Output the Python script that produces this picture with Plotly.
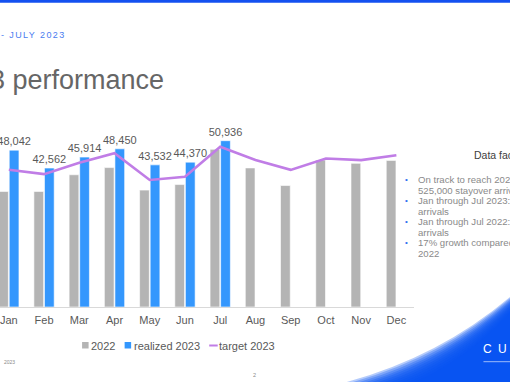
import plotly.graph_objects as go

months = ["Jan", "Feb", "Mar", "Apr", "May", "Jun", "Jul", "Aug", "Sep", "Oct", "Nov", "Dec"]
arrivals_2022 = [35400, 35400, 40500, 42700, 35800, 37500, 48300, 42600, 37200, 45000, 44000, 44900]
realized_2023 = [48042, 42562, 45914, 48450, 43532, 44370, 50936]
target_2023 = [42050, 40700, 44200, 47100, 38900, 39900, 49100, 45000, 42000, 45500, 45000, 46500]

fact_lines = [
    ("On track to reach 2023 t", True),
    ("525,000 stayover arrivals", False),
    ("Jan through Jul 2023: 32", True),
    ("arrivals", False),
    ("Jan through Jul 2022: 27", True),
    ("arrivals", False),
    ("17% growth compared to", True),
    ("2022", False),
]

FONT = "Liberation Sans, Arial, sans-serif"
GRAY_TXT = "#595959"
C2022 = "#B4B4B4"
C2023 = "#3497FD"
CTGT = "#C07DE6"
DEEP = "rgb(8,82,242)"

# plot-area geometry (pixels)
W_FIG, H_FIG = 510, 382
PL, PR, PT, PB = 0, 413.6, 100, 307
W = PR - PL
H = PB - PT


def px(x):
    return (x - PL) / W


def py(y):
    return (PB - y) / H


fig = go.Figure()
fig.add_trace(go.Bar(
    name="2022", x=months, y=arrivals_2022,
    marker=dict(color=C2022, line=dict(color="white", width=0.6)),
))
fig.add_trace(go.Bar(
    name="realized 2023", x=months[:len(realized_2023)], y=realized_2023,
    marker=dict(color=C2023, line=dict(color="white", width=0.6)),
    texttemplate="%{y:,}", textposition="outside", constraintext="none",
    cliponaxis=False,
    textfont=dict(family=FONT, size=11, color=GRAY_TXT),
))
fig.add_trace(go.Scatter(
    name="target 2023", x=months, y=target_2023, mode="lines",
    line=dict(color=CTGT, width=2.6),
))

shapes = []
annotations = []

# top blue rule
shapes.append(dict(type="rect", xref="paper", yref="paper",
                   x0=px(-2), x1=px(W_FIG + 2), y0=py(2.7), y1=py(-2),
                   fillcolor="rgb(20,80,240)", line=dict(width=0), layer="above"))

# bottom-right gradient swoosh (stacked translucent layers)
N = 12
outer = [(322, 388), (432, 364), (513, 294)]
inner = [(392, 390), (458, 370), (516, 306)]
for i in range(N):
    t = i / (N - 1)
    p = [(o[0] + (n[0] - o[0]) * t, o[1] + (n[1] - o[1]) * t) for o, n in zip(outer, inner)]
    path = (f"M {px(p[0][0])},{py(p[0][1])} Q {px(p[1][0])},{py(p[1][1])} {px(p[2][0])},{py(p[2][1])} "
            f"L {px(518)},{py(p[2][1])} L {px(518)},{py(392)} L {px(p[0][0])},{py(392)} Z")
    shapes.append(dict(type="path", xref="paper", yref="paper", path=path,
                       fillcolor=DEEP, opacity=0.3, line=dict(width=0), layer="below"))

# white thin line under logo
shapes.append(dict(type="line", xref="paper", yref="paper",
                   x0=px(483), x1=px(512), y0=py(361.7), y1=py(361.7),
                   line=dict(color="rgba(255,255,255,0.6)", width=1)))

# legend (custom, compact like the reference)
shapes.append(dict(type="rect", xref="paper", yref="paper",
                   x0=px(82), x1=px(88.5), y0=py(348.5), y1=py(342),
                   fillcolor=C2022, line=dict(width=0)))
shapes.append(dict(type="rect", xref="paper", yref="paper",
                   x0=px(124.5), x1=px(131), y0=py(348.5), y1=py(342),
                   fillcolor=C2023, line=dict(width=0)))
shapes.append(dict(type="line", xref="paper", yref="paper",
                   x0=px(209), x1=px(217.5), y0=py(345.5), y1=py(345.5),
                   line=dict(color=CTGT, width=2)))
for lx, txt in [(89, "2022"), (131.5, "realized 2023"), (216.5, "target 2023")]:
    annotations.append(dict(xref="paper", yref="paper", x=px(lx), y=py(345.5),
                            xanchor="left", yanchor="middle", showarrow=False, text=txt,
                            font=dict(family=FONT, size=11, color=GRAY_TXT)))

# header texts
annotations.append(dict(xref="paper", yref="paper", x=px(-1), y=py(35),
                        xanchor="left", yanchor="middle", showarrow=False,
                        text="<span style='letter-spacing:1.4px'>- JULY 2023</span>",
                        font=dict(family=FONT, size=9, color="#4A7CF0")))
annotations.append(dict(xref="paper", yref="paper", x=px(-12), y=py(80),
                        xanchor="left", yanchor="middle", showarrow=False,
                        text="3 performance",
                        font=dict(family=FONT, size=27, color="#666666")))

# data facts panel
annotations.append(dict(xref="paper", yref="paper", x=px(472), y=py(155),
                        xanchor="left", yanchor="middle", showarrow=False,
                        text="Data facts",
                        font=dict(family=FONT, size=10.5, color="#404040")))
ly = 179.5
for txt, bullet in fact_lines:
    if bullet:
        annotations.append(dict(xref="paper", yref="paper", x=px(402.5), y=py(ly),
                                xanchor="left", yanchor="middle", showarrow=False,
                                text="•", font=dict(family=FONT, size=8, color="#2D6FF0")))
    annotations.append(dict(xref="paper", yref="paper", x=px(415.5), y=py(ly),
                            xanchor="left", yanchor="middle", showarrow=False,
                            text=txt, font=dict(family=FONT, size=9.6, color="#8A8A8A")))
    ly += 10.5

# small footer texts
annotations.append(dict(xref="paper", yref="paper", x=px(2), y=py(362),
                        xanchor="left", yanchor="middle", showarrow=False,
                        text="2023", font=dict(family=FONT, size=5, color="#8A8A8A")))
annotations.append(dict(xref="paper", yref="paper", x=px(254.5), y=py(375),
                        xanchor="center", yanchor="middle", showarrow=False,
                        text="2", font=dict(family=FONT, size=5.5, color="#8A8A8A")))
annotations.append(dict(xref="paper", yref="paper", x=px(481), y=py(349),
                        xanchor="left", yanchor="middle", showarrow=False,
                        text="<span style='letter-spacing:1.5px'>C U R A Ç A O</span>",
                        font=dict(family=FONT, size=12, color="white")))

fig.update_layout(
    width=W_FIG, height=H_FIG, autosize=False,
    margin=dict(l=PL, r=W_FIG - PR, t=PT, b=H_FIG - PB, pad=0),
    paper_bgcolor="white", plot_bgcolor="white",
    showlegend=False,
    barmode="group", bargap=0.40, bargroupgap=0.08,
    font=dict(family=FONT, color=GRAY_TXT),
    xaxis=dict(type="category", range=[-0.25, 11.5], showgrid=False,
               showline=True, linecolor="#D9D9D9", linewidth=1,
               ticks="", tickfont=dict(family=FONT, size=11, color=GRAY_TXT),
               ticklabelstandoff=3, zeroline=False),
    yaxis=dict(range=[0, 63400], visible=False, showgrid=False, zeroline=False),
    shapes=shapes, annotations=annotations,
)

fig.write_html(
    "out.html",
    config={"displayModeBar": False},
    post_script="document.body.style.margin='0';document.body.style.overflow='hidden';",
)
